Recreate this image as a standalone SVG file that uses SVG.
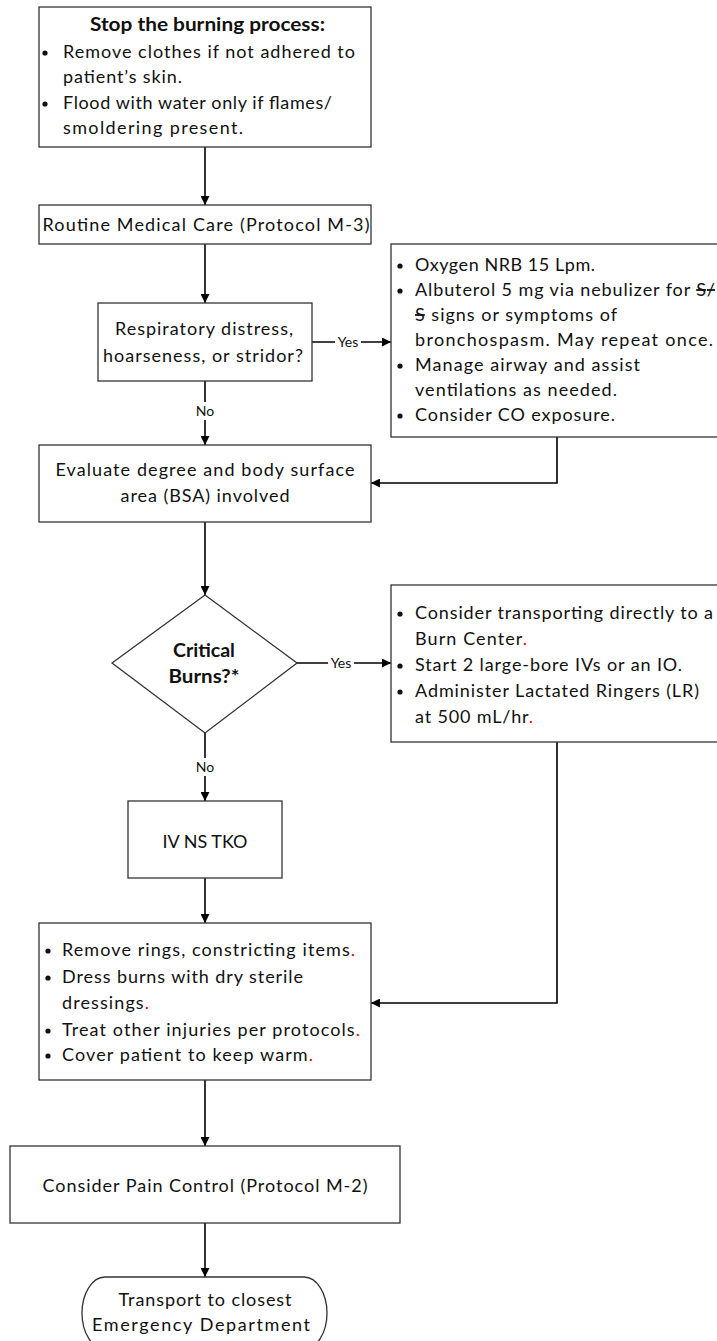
<svg xmlns="http://www.w3.org/2000/svg" width="717" height="1341" viewBox="0 0 717 1341">
<style>
.box{fill:#fff;stroke:#333;stroke-width:1.3}
.t{font-family:Lato,"Liberation Sans",sans-serif;font-size:18px;fill:#111}
.b{font-weight:bold}
.c{text-anchor:middle}
.lbl{font-family:Lato,"Liberation Sans",sans-serif;font-size:14px;fill:#111;text-anchor:middle}
.red{fill:#e00000}
.st{text-decoration:line-through}
.conn{stroke:#000;stroke-width:1.6;fill:none}
.bul{fill:#111}
</style>
<defs>
<marker id="ah" viewBox="0 0 10 10" refX="10" refY="5" markerWidth="9" markerHeight="9" markerUnits="userSpaceOnUse" orient="auto">
<path d="M0,0 L10,5 L0,10 Z" fill="#000"/>
</marker>
</defs>
<rect width="717" height="1341" fill="#fff"/>

<g id="connectors">
<line class="conn" x1="205" y1="147" x2="205" y2="205" marker-end="url(#ah)"/>
<line class="conn" x1="205" y1="244" x2="205" y2="303" marker-end="url(#ah)"/>
<line class="conn" x1="312" y1="342" x2="391" y2="342" marker-end="url(#ah)"/>
<rect x="335" y="334" width="26" height="16" fill="#fff"/>
<text class="lbl" x="348" y="347">Yes</text>
<line class="conn" x1="205" y1="381" x2="205" y2="445" marker-end="url(#ah)"/>
<rect x="194" y="402" width="22" height="18" fill="#fff"/>
<text class="lbl" x="205" y="416">No</text>
<polyline class="conn" points="557,437 557,483 371,483" marker-end="url(#ah)"/>
<line class="conn" x1="205" y1="522" x2="205" y2="595" marker-end="url(#ah)"/>
<line class="conn" x1="297" y1="663" x2="391" y2="663" marker-end="url(#ah)"/>
<rect x="328" y="655" width="26" height="16" fill="#fff"/>
<text class="lbl" x="341" y="668">Yes</text>
<line class="conn" x1="205" y1="733" x2="205" y2="801" marker-end="url(#ah)"/>
<rect x="194" y="758" width="22" height="18" fill="#fff"/>
<text class="lbl" x="205" y="772">No</text>
<polyline class="conn" points="557,742 557,1003 371,1003" marker-end="url(#ah)"/>
<line class="conn" x1="205" y1="878" x2="205" y2="923" marker-end="url(#ah)"/>
<line class="conn" x1="205" y1="1080" x2="205" y2="1146" marker-end="url(#ah)"/>
<line class="conn" x1="205" y1="1223" x2="205" y2="1277" marker-end="url(#ah)"/>
</g>

<g id="stop-burning">
<rect class="box" x="39" y="7" width="332" height="140"/>
<text class="t b c" x="207.5" y="31" textLength="235" lengthAdjust="spacingAndGlyphs">Stop the burning process:</text>
<circle class="bul" cx="45" cy="53" r="2.6"/>
<text class="t" x="63" y="58" textLength="292" lengthAdjust="spacing">Remove clothes if not adhered to</text>
<text class="t" x="63" y="83" textLength="119" lengthAdjust="spacing">patient’s skin.</text>
<circle class="bul" cx="45" cy="104" r="2.6"/>
<text class="t" x="63" y="109" textLength="269" lengthAdjust="spacing">Flood with water only if flames/</text>
<text class="t" x="63" y="134" textLength="180" lengthAdjust="spacing">smoldering present.</text>
</g>

<g id="routine-care">
<rect class="box" x="39" y="205" width="332" height="39"/>
<text class="t c" x="206" y="231" textLength="327" lengthAdjust="spacing">Routine Medical Care (Protocol M-3)</text>
</g>

<g id="respiratory-distress">
<rect class="box" x="98" y="303" width="214" height="78"/>
<text class="t c" x="204" y="335" textLength="178" lengthAdjust="spacing">Respiratory distress,</text>
<text class="t c" x="203" y="362" textLength="200" lengthAdjust="spacing">hoarseness, or stridor?</text>
</g>

<g id="airway-care">
<rect class="box" x="391" y="244" width="340" height="193"/>
<circle class="bul" cx="400" cy="266" r="2.6"/>
<text class="t" x="415" y="271" textLength="180" lengthAdjust="spacing">Oxygen NRB 15 Lpm.</text>
<circle class="bul" cx="400" cy="291" r="2.6"/>
<text class="t" x="415" y="296" textLength="300" lengthAdjust="spacing">Albuterol 5 mg via nebulizer for <tspan class="st">S/</tspan></text>
<text class="t" x="415" y="321" textLength="202" lengthAdjust="spacing"><tspan class="st">S</tspan> signs or symptoms of</text>
<text class="t" x="415" y="346" textLength="298" lengthAdjust="spacing">bronchospasm.  May repeat once.</text>
<circle class="bul" cx="400" cy="366" r="2.6"/>
<text class="t" x="415" y="371" textLength="225" lengthAdjust="spacing">Manage airway and assist</text>
<text class="t" x="415" y="396" textLength="202" lengthAdjust="spacing">ventilations as needed.</text>
<circle class="bul" cx="400" cy="416" r="2.6"/>
<text class="t" x="415" y="421" textLength="200" lengthAdjust="spacing">Consider CO exposure.</text>
</g>

<g id="evaluate-bsa">
<rect class="box" x="39" y="445" width="332" height="77"/>
<text class="t c" x="205" y="476" textLength="299" lengthAdjust="spacing">Evaluate degree and body surface</text>
<text class="t c" x="205" y="502" textLength="169" lengthAdjust="spacing">area (BSA) involved</text>
</g>

<g id="critical-burns">
<polygon class="box" points="205,595 297,663 205,733 112,663"/>
<text class="t b c" x="204" y="657" textLength="62" lengthAdjust="spacingAndGlyphs">Critical</text>
<text class="t b c" x="204" y="683" textLength="71" lengthAdjust="spacingAndGlyphs">Burns?*</text>
</g>

<g id="burn-center">
<rect class="box" x="391" y="585" width="340" height="157"/>
<circle class="bul" cx="400" cy="614" r="2.6"/>
<text class="t" x="415" y="619" textLength="298" lengthAdjust="spacing">Consider transporting directly to a</text>
<text class="t" x="415" y="645" textLength="112" lengthAdjust="spacing">Burn Center<tspan class="red">.</tspan></text>
<circle class="bul" cx="400" cy="666" r="2.6"/>
<text class="t" x="415" y="671" textLength="267" lengthAdjust="spacing">Start 2 large-bore IVs or an IO.</text>
<circle class="bul" cx="400" cy="692" r="2.6"/>
<text class="t" x="415" y="697" textLength="284" lengthAdjust="spacing">Administer Lactated Ringers (LR)</text>
<text class="t" x="415" y="723" textLength="118" lengthAdjust="spacing">at 500 mL/hr<tspan class="red">.</tspan></text>
</g>

<g id="iv-ns-tko">
<rect class="box" x="128" y="801" width="154" height="77"/>
<text class="t c" x="205" y="848" textLength="85" lengthAdjust="spacing">IV NS TKO</text>
</g>

<g id="wound-care">
<rect class="box" x="39" y="923" width="332" height="157"/>
<circle class="bul" cx="48" cy="951" r="2.6"/>
<text class="t" x="62" y="956" textLength="293" lengthAdjust="spacing">Remove rings, constricting items<tspan class="red">.</tspan></text>
<circle class="bul" cx="48" cy="978" r="2.6"/>
<text class="t" x="62" y="983" textLength="241" lengthAdjust="spacing">Dress burns with dry sterile</text>
<text class="t" x="62" y="1009" textLength="87" lengthAdjust="spacing">dressings<tspan class="red">.</tspan></text>
<circle class="bul" cx="48" cy="1031" r="2.6"/>
<text class="t" x="62" y="1036" textLength="298" lengthAdjust="spacing">Treat other injuries per protocols<tspan class="red">.</tspan></text>
<circle class="bul" cx="48" cy="1056" r="2.6"/>
<text class="t" x="62" y="1061" textLength="251" lengthAdjust="spacing">Cover patient to keep warm<tspan class="red">.</tspan></text>
</g>

<g id="pain-control">
<rect class="box" x="10" y="1146" width="390" height="77"/>
<text class="t c" x="205" y="1192" textLength="325" lengthAdjust="spacing">Consider Pain Control (Protocol M-2)</text>
</g>

<g id="transport">
<path class="box" d="M105,1277 H304 A23,36 0 0 1 304,1349 H105 A23,36 0 0 1 105,1277 Z"/>
<text class="t c" x="205" y="1306" textLength="173" lengthAdjust="spacing">Transport to closest</text>
<text class="t c" x="201" y="1331" textLength="218" lengthAdjust="spacing">Emergency Department</text>
</g>
</svg>
